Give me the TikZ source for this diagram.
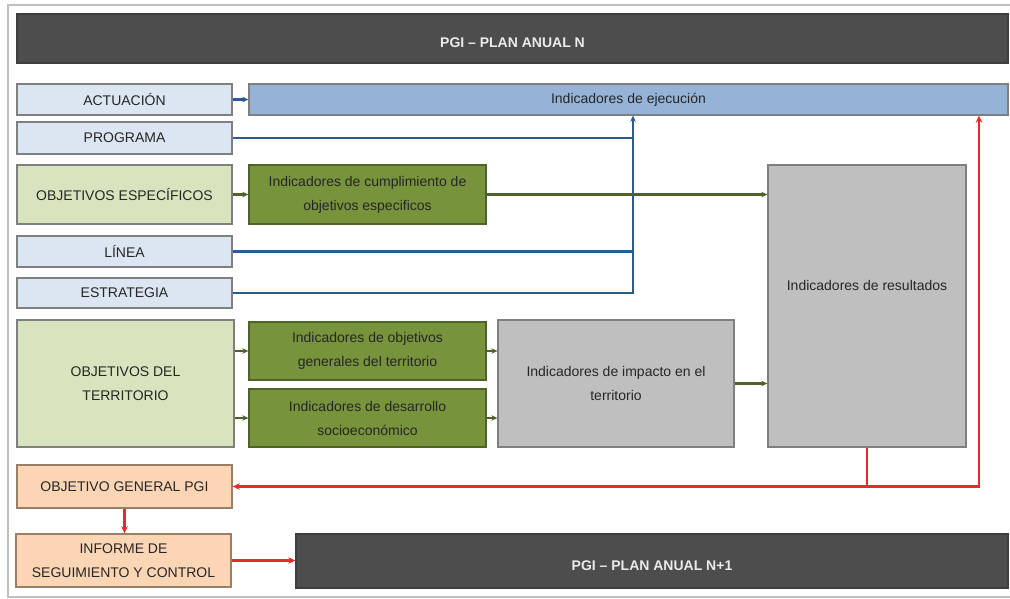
\documentclass[tikz,border=0pt]{standalone}
\usepackage{fontspec}
\setmainfont{Liberation Sans}
\usepackage{xcolor}
\usetikzlibrary{arrows.meta,positioning}
\definecolor{barfill}{HTML}{4D4D4D}
\definecolor{bluefill}{HTML}{DCE6F2}
\definecolor{ejecfill}{HTML}{95B3D7}
\definecolor{lgreenfill}{HTML}{D7E4BD}
\definecolor{dgreenfill}{HTML}{77933C}
\definecolor{grayfill}{HTML}{BFBFBF}
\definecolor{peachfill}{HTML}{FCD5B5}
\definecolor{boxline}{HTML}{7F7F7F}
\definecolor{txtcol}{HTML}{262626}
\definecolor{blueln}{HTML}{2F5A8C}
\definecolor{greenln}{HTML}{4F6228}
\definecolor{redln}{HTML}{E52B2B}
\tikzset{%
	box/.style      = {draw=boxline, line width=1.3pt, inner sep=2pt, align=center, text=txtcol, font=\fontsize{14}{24}\selectfont},
	titlebar/.style = {box, draw=barfill!80!black, fill=barfill, text=white!92!black, font=\fontsize{14}{17}\selectfont\bfseries, text height=19pt},
	level/.style    = {box, fill=bluefill},
	objgreen/.style = {box, fill=lgreenfill},
	indgreen/.style = {box, fill=dgreenfill, draw=greenln},
	indgray/.style  = {box, fill=grayfill},
	objpeach/.style = {box, fill=peachfill, draw=boxline!80!orange},
	bluearrow/.style  = {draw=blueln, line width=2.2pt, -{Stealth[length=6pt,width=5.5pt]}},
	blueline/.style   = {draw=blueln, line width=2.2pt},
	greenarrow/.style = {draw=greenln, line width=2.2pt, -{Stealth[length=6pt,width=5.5pt]}},
	redarrow/.style   = {draw=redln, line width=2.2pt, -{Stealth[length=7pt,width=6.5pt]}},
}

\begin{document}
\begin{tikzpicture}[x=1pt,y=-1pt]
	\useasboundingbox (0,0) rectangle (1010,599);
	% frame
	\draw[gray!50, line width=1.5pt] (1012,5) -- (8,5) -- (8,597) -- (1012,597);
	
	% plan anual N
	\node[titlebar, minimum width=991pt, minimum height=49pt] (plan) at (512.5,38.5) {PGI -- PLAN ANUAL N};
	
	% levels
	\node[level, minimum width=215pt, minimum height=31pt] (act) at (124.5,99.5) {ACTUACIÓN};
	\node[box, fill=ejecfill, minimum width=759pt, minimum height=31pt] (ejec) at (628.5,99.5) {Indicadores de ejecución};
	\node[level, minimum width=215pt, minimum height=32pt] (prog) at (124.5,138) {PROGRAMA};
	\node[objgreen, minimum width=215pt, minimum height=59pt] (oesp) at (124.5,194.5) {OBJETIVOS ESPECÍFICOS};
	\node[indgreen, minimum width=237pt, minimum height=59pt] (icum) at (367.5,194.5) {Indicadores de cumplimiento de\\objetivos especificos};
	\node[level, minimum width=215pt, minimum height=31pt] (linea) at (124.5,251.5) {LÍNEA};
	\node[level, minimum width=215pt, minimum height=30pt] (estr) at (124.5,293) {ESTRATEGIA};
	
	% territorio
	\node[objgreen, minimum width=217pt, minimum height=127pt] (oter) at (125.5,383.5) {OBJETIVOS DEL\\TERRITORIO};
	\node[indgreen, minimum width=237pt, minimum height=58pt] (iogt) at (367.5,351) {Indicadores de objetivos\\generales del territorio};
	\node[indgreen, minimum width=237pt, minimum height=58pt] (ides) at (367.5,418) {Indicadores de desarrollo\\socioeconómico};
	\node[indgray, minimum width=236pt, minimum height=127pt] (iimp) at (616,383.5) {Indicadores de impacto en el\\territorio};
	\node[indgray, minimum width=198pt, minimum height=282pt, text depth=42pt] (ires) at (867,306) {Indicadores de resultados};
	
	% seguimiento
	\node[objpeach, minimum width=215pt, minimum height=43pt] (ogp) at (124.5,486.5) {OBJETIVO GENERAL PGI};
	\node[objpeach, minimum width=215pt, minimum height=53pt] (inf) at (123.5,560.5) {INFORME DE\\SEGUIMIENTO Y CONTROL};
	\node[titlebar, minimum width=712pt, minimum height=54pt] (next) at (652,561) {PGI -- PLAN ANUAL N+1};
	
	% blue connectors
	\coordinate (bus) at (633,0);
	\draw[bluearrow] (act) -- (ejec);
	\draw[blueline] (prog.east) -- (prog.east -| bus);
	\draw[blueline] (linea.east) -- (linea.east -| bus);
	\draw[bluearrow] (estr.east) -| (bus |- ejec.south);
	
	% green connectors
	\draw[greenarrow] (oesp) -- (icum);
	\draw[greenarrow] (icum.east) -- (icum.east -| ires.west);
	\draw[greenarrow] (oter.east |- iogt.west) -- (iogt.west);
	\draw[greenarrow] (oter.east |- ides.west) -- (ides.west);
	\draw[greenarrow] (iogt.east) -- (iogt.east -| iimp.west);
	\draw[greenarrow] (ides.east) -- (ides.east -| iimp.west);
	\draw[greenarrow] (iimp.east) -- (iimp.east -| ires.west);
	
	% red connectors
	\coordinate (back) at (979,0);
	\draw[redarrow] (ires.south) |- (ogp.east);
	\draw[redarrow] (ires.south |- ogp.east) -| (back |- ejec.south);
	\draw[redarrow] (ogp.south) -- (ogp.south |- inf.north);
	\draw[redarrow] (inf.east) -- (inf.east -| next.west);
\end{tikzpicture}
\end{document}
